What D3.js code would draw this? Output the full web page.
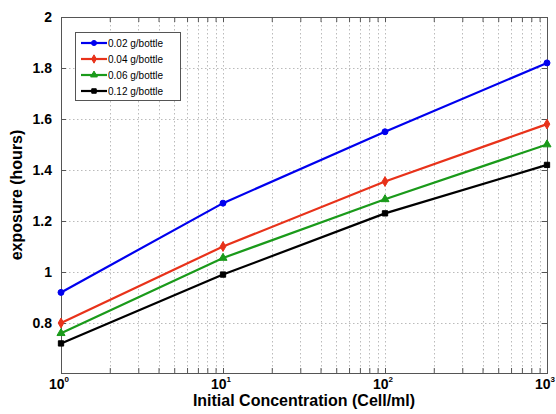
<!DOCTYPE html>
<html>
<head>
<meta charset="utf-8">
<script src="https://cdn.jsdelivr.net/npm/d3@7"></script>
<style>
  body { margin: 0; background: #fff; }
  text { font-family: "Liberation Sans", Arial, sans-serif; font-weight: bold; }
</style>
</head>
<body>
<svg id="chart" width="556" height="414"></svg>
<script>
// concentrations (cell/ml)
var concentrations = [1, 10, 100, 1000];
var seriesNames = ["0.02 g/bottle", "0.04 g/bottle", "0.06 g/bottle", "0.12 g/bottle"];
var series002 = [0.92, 1.27, 1.55, 1.82];
var series004 = [0.80, 1.10, 1.355, 1.58];
var series006 = [0.76, 1.055, 1.285, 1.50];
var series012 = [0.72, 0.99, 1.23, 1.42];
var yTicks = [0.8, 1, 1.2, 1.4, 1.6, 1.8, 2];
var xTicks = [1, 10, 100, 1000];

var colors = ["#0000ee", "#e8321a", "#1a9a1a", "#000000"];
var markers = [d3.symbolCircle, d3.symbolDiamond, d3.symbolTriangle, d3.symbolSquare];
var allSeries = [series002, series004, series006, series012];

var svg = d3.select("#chart");
var pLeft = 61, pRight = 547, pTop = 17, pBottom = 373;

var x = d3.scaleLog().domain([1, 1000]).range([pLeft, pRight]);
var y = d3.scaleLinear().domain([0.604, 2]).range([pBottom, pTop]);

// grid
var grid = svg.append("g").attr("stroke", "#bbb").attr("stroke-dasharray", "1.5,2.5").attr("stroke-width", 1);
var minor = [];
for (var d = 1; d < 1000; d *= 10) {
    for (var k = 2; k <= 9; k++) minor.push(d * k);
}
grid.selectAll("line.vx")
    .data(minor.concat([10, 100]))
    .enter().append("line")
    .attr("x1", function (d) { return Math.round(x(d)) + 0.5; })
    .attr("x2", function (d) { return Math.round(x(d)) + 0.5; })
    .attr("y1", pTop).attr("y2", pBottom);
grid.selectAll("line.hy")
    .data(yTicks.slice(0, -1))
    .enter().append("line")
    .attr("y1", function (d) { return Math.round(y(d)) + 0.5; })
    .attr("y2", function (d) { return Math.round(y(d)) + 0.5; })
    .attr("x1", pLeft).attr("x2", pRight);

// frame
svg.append("rect")
    .attr("x", pLeft + 0.5).attr("y", pTop + 0.5)
    .attr("width", pRight - pLeft).attr("height", pBottom - pTop)
    .attr("fill", "none").attr("stroke", "#555").attr("stroke-width", 1);

function tickStyle(g) {
    g.select(".domain").remove();
    g.selectAll("line").attr("stroke", "#555");
}
var xAll = minor.concat(xTicks);
svg.append("g").attr("transform", "translate(0," + pBottom + ")")
    .call(d3.axisBottom(x).tickValues(xAll).tickSize(-5).tickFormat(""))
    .call(tickStyle);
svg.append("g").attr("transform", "translate(0," + pTop + ")")
    .call(d3.axisTop(x).tickValues(xAll).tickSize(-5).tickFormat(""))
    .call(tickStyle);
svg.append("g").attr("transform", "translate(" + pLeft + ",0)")
    .call(d3.axisLeft(y).tickValues(yTicks).tickSize(-5).tickPadding(9).tickFormat(function (d) { return d; }))
    .call(tickStyle)
    .call(function (g) {
        g.selectAll("text").attr("font-size", 14).attr("fill", "#000")
            .style("font-family", "'Liberation Sans', Arial, sans-serif").style("font-weight", "bold");
    });
svg.append("g").attr("transform", "translate(" + pRight + ",0)")
    .call(d3.axisRight(y).tickValues(yTicks).tickSize(-5).tickFormat(""))
    .call(tickStyle);

// x tick labels as 10^n
var xl = svg.append("g").selectAll("text")
    .data(xTicks)
    .enter().append("text")
    .attr("x", function (d) { return x(d) - 2; })
    .attr("y", pBottom + 16)
    .attr("text-anchor", "middle")
    .attr("font-size", 14);
xl.append("tspan").text("10");
xl.append("tspan").attr("dy", -7).attr("font-size", 8)
    .text(function (d) { return Math.round(Math.log10(d)); });

// lines
var line = d3.line()
    .x(function (d, i) { return x(concentrations[i]); })
    .y(function (d) { return y(d); });

allSeries.forEach(function (s, i) {
    svg.append("path")
        .datum(s)
        .attr("fill", "none")
        .attr("stroke", colors[i])
        .attr("stroke-width", 2.2)
        .attr("d", line);
    svg.append("g").selectAll("path")
        .data(s)
        .enter().append("path")
        .attr("transform", function (d, j) { return "translate(" + x(concentrations[j]) + "," + y(d) + ")"; })
        .attr("d", d3.symbol().type(markers[i]).size(28))
        .attr("fill", colors[i])
        .attr("stroke", colors[i]);
});

// legend
var lg = svg.append("g");
lg.append("rect")
    .attr("x", 75.5).attr("y", 32.5).attr("width", 105).attr("height", 68)
    .attr("fill", "#fff").attr("stroke", "#555").attr("stroke-width", 1);
seriesNames.forEach(function (name, i) {
    var ly = 43 + i * 16;
    lg.append("line").attr("x1", 81).attr("x2", 107).attr("y1", ly).attr("y2", ly)
        .attr("stroke", colors[i]).attr("stroke-width", 2.2);
    lg.append("path").attr("transform", "translate(94," + ly + ")")
        .attr("d", d3.symbol().type(markers[i]).size(20))
        .attr("fill", colors[i]).attr("stroke", colors[i]);
    lg.append("text").attr("x", 108).attr("y", ly + 3.5)
        .attr("font-size", 10).style("font-weight", "normal").text(name);
});

// axis titles
svg.append("text")
    .attr("x", (pLeft + pRight) / 2).attr("y", 406)
    .attr("text-anchor", "middle").attr("font-size", 16)
    .text("Initial Concentration (Cell/ml)");
svg.append("text")
    .attr("transform", "translate(22," + ((pTop + pBottom) / 2) + ") rotate(-90)")
    .attr("text-anchor", "middle").attr("font-size", 16)
    .text("exposure (hours)");
</script>
</body>
</html>
